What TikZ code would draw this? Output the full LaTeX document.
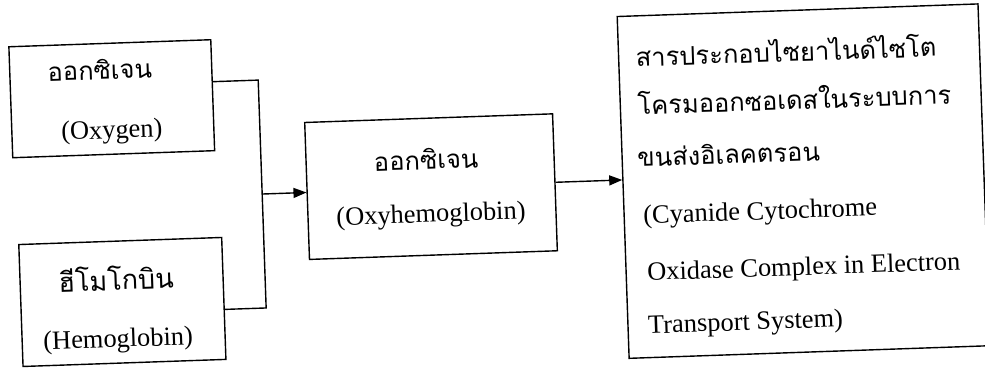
\documentclass[tikz,border=0pt]{standalone}
\usepackage{fontspec}
\setmainfont{Liberation Serif}
\newfontfamily\thaifont[Script=Thai]{Loma}
\usetikzlibrary{arrows.meta}
\tikzset{
  frame/.style={draw, line width=1.4pt, inner sep=0pt},
  lbl/.style={inner sep=0pt, anchor=base, font=\fontsize{26.4}{30}\selectfont},
  thlbl/.style={inner sep=0pt, anchor=base, font=\thaifont\fontsize{25.5}{30}\selectfont},
  lline/.style={inner sep=0pt, anchor=base west, font=\fontsize{26.4}{30}\selectfont},
  thline/.style={inner sep=0pt, anchor=base west, font=\thaifont\fontsize{25.5}{30}\selectfont},
  wire/.style={line width=1.4pt},
  flow/.style={line width=1.4pt, -{Triangle[length=13pt,width=10pt]}}
}
\begin{document}
\begin{tikzpicture}[x=1pt,y=-1pt]
\useasboundingbox (0,0) rectangle (985,370);
\begin{scope}[rotate around={2:(492,185)}, transform shape]
  % boxes
  \node[frame, minimum width=202pt, minimum height=111pt] (oxy) at (115,85.5) {};
  \node[frame, minimum width=203pt, minimum height=122pt] (hemo) at (118.5,289) {};
  \node[frame, minimum width=248pt, minimum height=137pt] (oxyhemo) at (431,184.5) {};
  \node[frame, minimum width=361pt, minimum height=342pt] (cyan) at (803.5,192) {};
  % labels
  \node[thlbl] (oxyth) at (104,66) {ออกซิเจน};
  \node[lbl] (oxyen) at (114,125) {(Oxygen)};
  \node[thlbl, font=\thaifont\fontsize{27}{30}\selectfont] (hemoth) at (113,277) {ฮีโมโกบิน};
  \node[lbl] (hemoen) at (113,334) {(Hemoglobin)};
  \node[thlbl] (oxyhemoth) at (427,167) {ออกซิเจน};
  \node[lbl] (oxyhemoen) at (430,220) {(Oxyhemoglobin)};
  \node[thline] (c1) at (640,72) {สารประกอบไซยาไนด์ไซโต};
  \node[thline] (c2) at (640,120) {โครมออกซอเดสในระบบการ};
  \node[thline] (c3) at (638,172) {ขนส่งอิเลคตรอน};
  \node[lline] (c4) at (642,229) {(Cyanide Cytochrome};
  \node[lline] (c5) at (644,286) {Oxidase Complex in Electron};
  \node[lline] (c6) at (643,339) {Transport System)};
  % connectors
  \coordinate (jtop) at (262,72);
  \coordinate (jbot) at (262,300);
  \coordinate (jmid) at (262,186);
  \draw[wire] (oxy.east |- jtop) -- (jtop) -- (jbot) -- (hemo.east |- jbot);
  \draw[flow] (jmid) -- (oxyhemo.west |- jmid);
  \draw[flow] (oxyhemo.east) -- (cyan.west |- oxyhemo.east);
\end{scope}
\end{tikzpicture}
\end{document}
